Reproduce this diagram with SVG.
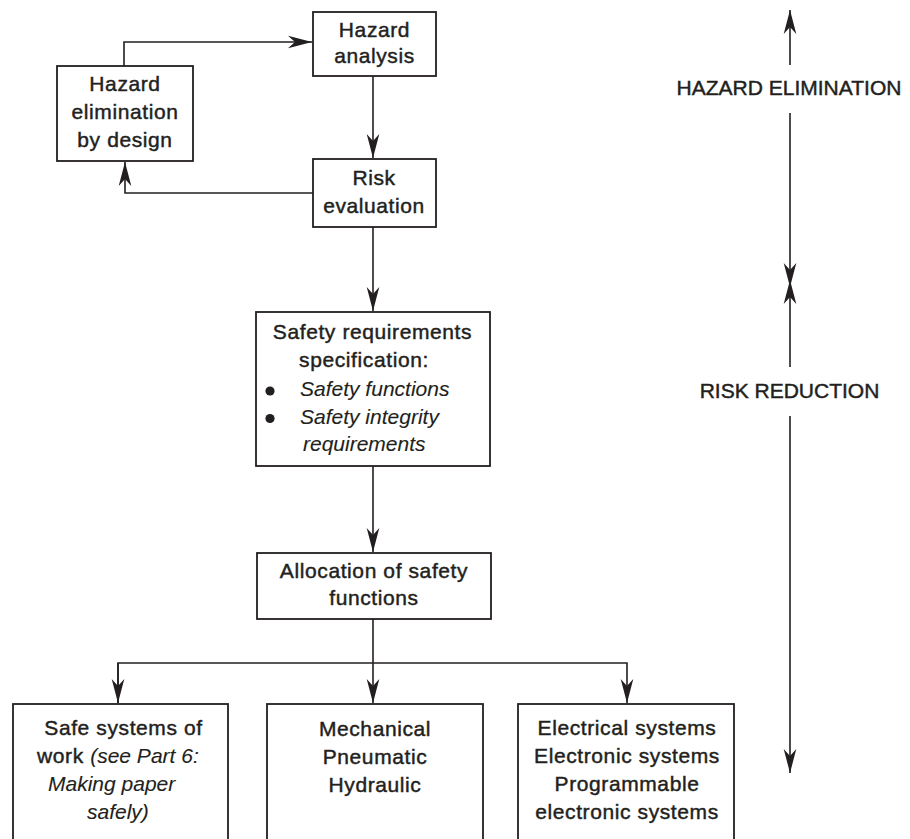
<svg xmlns="http://www.w3.org/2000/svg" width="910" height="839" viewBox="0 0 910 839">
<style>
.box{fill:#fff;stroke:#231f20;stroke-width:1.8}
.ln{fill:none;stroke:#231f20;stroke-width:1.6}
text{font-family:"Liberation Sans",Arial,sans-serif;fill:#231f20;font-size:21px;letter-spacing:0.6px;stroke:#231f20;stroke-width:0.45px}
.c{text-anchor:middle}
.it{font-style:italic;letter-spacing:0;stroke-width:0.1px}
.lab{letter-spacing:0}
</style>
<defs>
<marker id="ah" markerUnits="userSpaceOnUse" markerWidth="26" markerHeight="16" viewBox="-25 -8 26 16" refX="0" refY="0" orient="auto">
<path d="M0,0 L-24,-6.3 L-17,0 L-24,6.3 Z" fill="#231f20"/>
</marker>
</defs>
<rect width="910" height="839" fill="#fff"/>
<g id="connectors">
<polyline class="ln" points="124,66 124,42 312,42" marker-end="url(#ah)"/>
<line class="ln" x1="373" y1="76" x2="373" y2="158" marker-end="url(#ah)"/>
<polyline class="ln" points="313,193 125,193 125,162" marker-end="url(#ah)"/>
<line class="ln" x1="373" y1="227" x2="373" y2="311" marker-end="url(#ah)"/>
<line class="ln" x1="373" y1="466" x2="373" y2="552" marker-end="url(#ah)"/>
<line class="ln" x1="373" y1="619" x2="373" y2="703" marker-end="url(#ah)"/>
<polyline class="ln" points="118,703 118,663 627,663 627,703" marker-end="url(#ah)"/>
<line class="ln" x1="118" y1="663" x2="118" y2="703" marker-end="url(#ah)"/>
<line class="ln" x1="790" y1="65" x2="790" y2="10" marker-end="url(#ah)"/>
<line class="ln" x1="790" y1="113" x2="790" y2="287" marker-end="url(#ah)"/>
<line class="ln" x1="790" y1="367" x2="790" y2="280" marker-end="url(#ah)"/>
<line class="ln" x1="790" y1="416" x2="790" y2="773" marker-end="url(#ah)"/>
</g>
<g id="hazard-analysis">
<rect class="box" x="313" y="12" width="123" height="64"/>
<text class="c" x="374.5" y="36.5">Hazard</text>
<text class="c" x="374.5" y="63">analysis</text>
</g>
<g id="hazard-elimination">
<rect class="box" x="57" y="66" width="136" height="95"/>
<text class="c" x="125" y="90.5">Hazard</text>
<text class="c" x="125" y="119">elimination</text>
<text class="c" x="125" y="146.5">by design</text>
</g>
<g id="risk-evaluation">
<rect class="box" x="313" y="159" width="123" height="68"/>
<text class="c" x="374" y="185">Risk</text>
<text class="c" x="374" y="213">evaluation</text>
</g>
<g id="safety-requirements">
<rect class="box" x="256" y="312" width="234" height="154"/>
<text class="c" x="372.5" y="339">Safety requirements</text>
<text class="c" x="364" y="366.5">specification:</text>
<circle cx="270" cy="391" r="4.6" fill="#231f20"/>
<circle cx="270" cy="418.5" r="4.6" fill="#231f20"/>
<text class="it" x="300" y="396">Safety functions</text>
<text class="it" x="300" y="423.5">Safety integrity</text>
<text class="it" x="303" y="451">requirements</text>
</g>
<g id="allocation">
<rect class="box" x="257" y="553" width="234" height="66"/>
<text class="c" x="374" y="578">Allocation of safety</text>
<text class="c" x="374" y="605">functions</text>
</g>
<g id="safe-systems">
<rect class="box" x="13" y="704" width="215" height="150"/>
<text class="c" x="123.5" y="735">Safe systems of</text>
<text x="37" y="763">work <tspan class="it">(see Part 6:</tspan></text>
<text class="it" x="48" y="791">Making paper</text>
<text class="it" x="87" y="819">safely)</text>
</g>
<g id="mechanical">
<rect class="box" x="267" y="704" width="216" height="150"/>
<text class="c" x="375" y="735.5">Mechanical</text>
<text class="c" x="375" y="763.5">Pneumatic</text>
<text class="c" x="375" y="791.5">Hydraulic</text>
</g>
<g id="electrical">
<rect class="box" x="518" y="704" width="216" height="150"/>
<text class="c" x="627" y="735">Electrical systems</text>
<text class="c" x="627" y="763">Electronic systems</text>
<text class="c" x="627" y="791">Programmable</text>
<text class="c" x="627" y="818.5">electronic systems</text>
</g>
<g id="labels">
<text class="c lab" x="789" y="94.5">HAZARD ELIMINATION</text>
<text class="c lab" x="789.5" y="397.5">RISK REDUCTION</text>
</g>
</svg>
